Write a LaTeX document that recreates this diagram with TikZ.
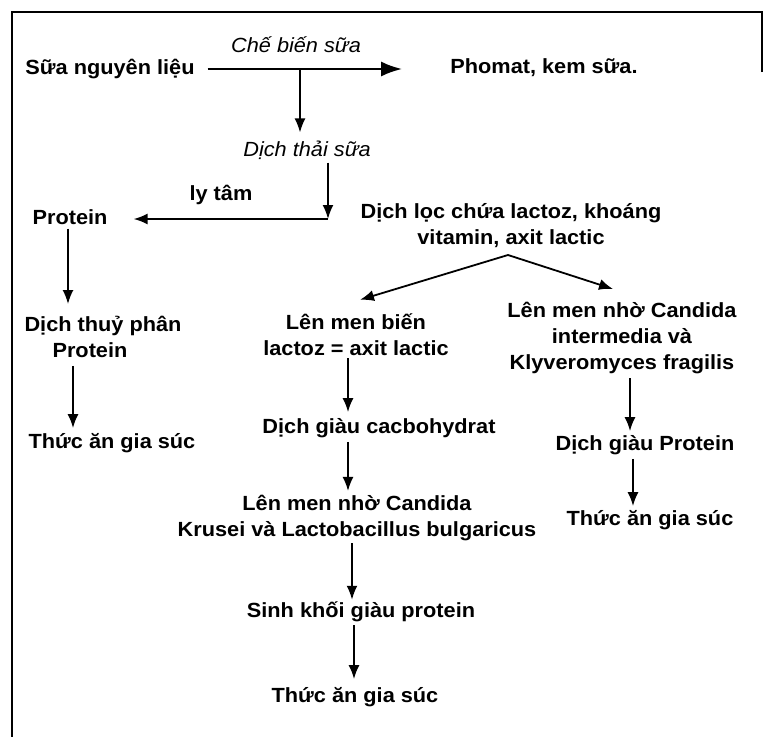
\documentclass[tikz,border=0pt]{standalone}
\usepackage{fontspec}
\setmainfont{Liberation Sans}[FakeStretch=1.06]
\usetikzlibrary{arrows.meta,calc}
\begin{document}
\begin{tikzpicture}[x=1pt,y=-1pt,
  lbl/.style={font=\fontsize{20.5}{26}\selectfont\bfseries, inner sep=0pt, align=center},
  itl/.style={font=\fontsize{20.5}{26}\selectfont\itshape, inner sep=0pt},
  arr/.style={line width=1.8pt, -{Latex[length=14pt,width=11pt]}},
  bigarr/.style={line width=2.6pt, -{Latex[length=21pt,width=15pt]}},
  frame/.style={line width=1.8pt}]
\useasboundingbox (0,0) rectangle (764,737);
\draw[frame] (762,72) -- (762,12) -- (12,12) -- (12,737);

\node[lbl] (sua) at (110,69) {Sữa nguyên liệu};
\node[itl] (che) at (296,45) {Chế biến sữa};
\node[lbl] (pho) at (544,68) {Phomat, kem sữa.};
\node[itl] (dts) at (307,150) {Dịch thải sữa};
\node[lbl] (lytam) at (221,195) {ly tâm};
\node[lbl] (prot) at (70,217) {Protein};
\node[lbl] (loc) at (511,226) {Dịch lọc chứa lactoz, khoáng\\vitamin, axit lactic};
\node[lbl, align=left] (dtp) at (103,337) {Dịch thuỷ phân\\\hspace*{28pt}Protein};
\node[lbl] (ta1) at (112,443) {Thức ăn gia súc};
\node[lbl] (lbien) at (356,335) {Lên men biến\\lactoz = axit lactic};
\node[lbl] (dgc) at (379,428) {Dịch giàu cacbohydrat};
\node[lbl] (lkr) at (357,518) {Lên men nhờ Candida\\Krusei và Lactobacillus bulgaricus};
\node[lbl] (skg) at (361,612) {Sinh khối giàu protein};
\node[lbl] (ta2) at (355,697) {Thức ăn gia súc};
\node[lbl] (lcan) at (622,338) {Lên men nhờ Candida\\intermedia và\\Klyveromyces fragilis};
\node[lbl] (dgp) at (645,445) {Dịch giàu Protein};
\node[lbl] (ta3) at (650,520) {Thức ăn gia súc};

\coordinate (j1) at (300,69);
\coordinate (j2) at (328,219);
\coordinate (j3) at (508,255);

\draw[bigarr, shorten <=13pt, shorten >=48pt] (sua.east) -- (sua.east -| pho.west);
\draw[arr, shorten >=8pt] (j1) -- (j1 |- dts.north);
\draw[arr, shorten <=3pt] (dts.south -| j2) -- (j2);
\draw[arr, shorten >=26pt] (j2) -- (j2 -| prot.east);
\draw[arr] (j3) -- ($(lbien.north)+(4,-14)$);
\draw[arr] (j3) -- ($(lcan.north)+(-9,-13)$);

\draw[arr] ($(prot.south)+(-2,4)$) -- ($(dtp.north)+(-35,-12)$);
\draw[arr] ($(dtp.south)+(-30,8)$) -- ($(ta1.north)+(-39,-5)$);
\draw[arr] ($(lbien.south)+(-8,2)$) -- ($(dgc.north)+(-31,-6)$);
\draw[arr] ($(dgc.south)+(-31,4)$) -- ($(lkr.north)+(-9,-4)$);
\draw[arr] ($(lkr.south)+(-5,2)$) -- ($(skg.north)+(-9,-2)$);
\draw[arr] ($(skg.south)+(-7,3)$) -- ($(ta2.north)+(-1,-8)$);
\draw[arr] ($(lcan.south)+(8,4)$) -- ($(dgp.north)+(-15,-4)$);
\draw[arr] ($(dgp.south)+(-12,4)$) -- ($(ta3.north)+(-17,-4)$);
\end{tikzpicture}
\end{document}
